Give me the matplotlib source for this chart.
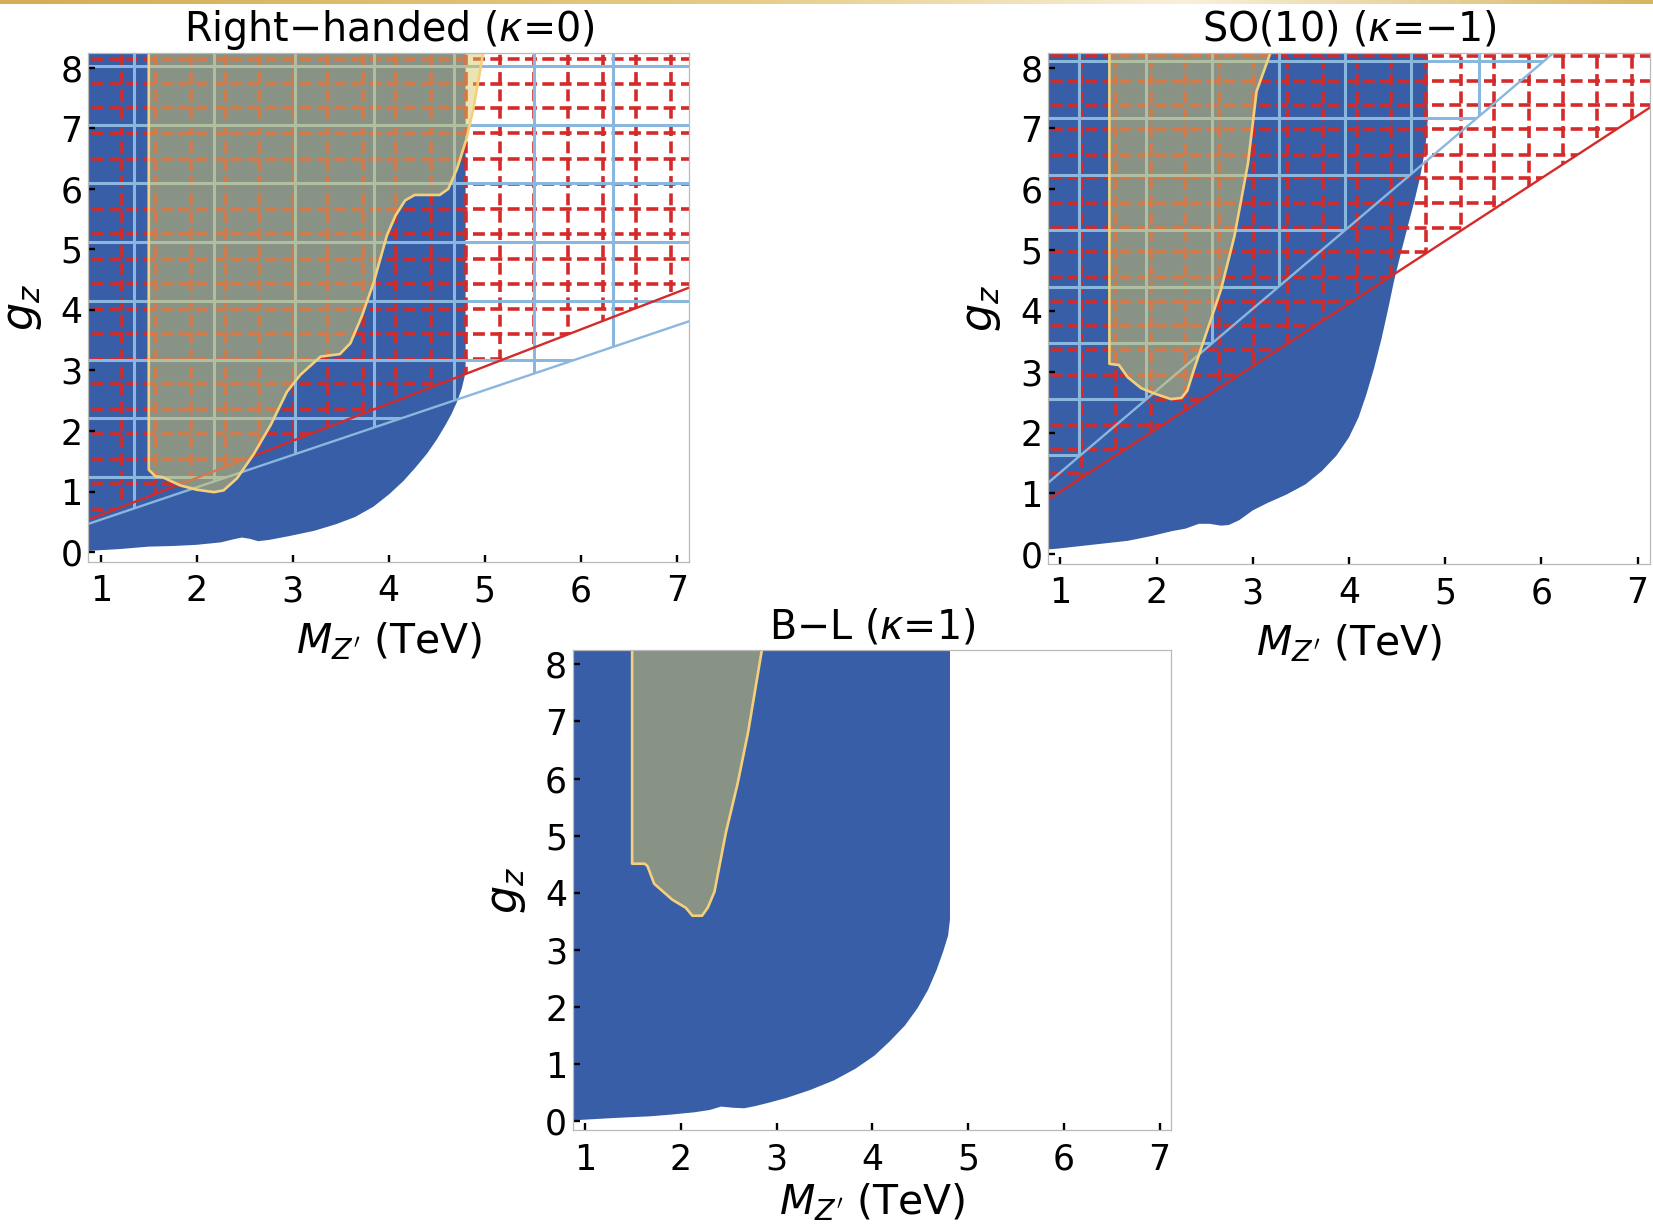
import numpy as np
import matplotlib
matplotlib.use("Agg")
import matplotlib.pyplot as plt
from matplotlib.patches import Polygon
from matplotlib.colors import LinearSegmentedColormap

# ---------------- data ----------------
titles = ["Right\u2212handed ($\\kappa$=0)", "SO(10) ($\\kappa$=\u22121)", "B\u2212L ($\\kappa$=1)"]
x_ticks = [1, 2, 3, 4, 5, 6, 7]
y_ticks = [0, 1, 2, 3, 4, 5, 6, 7, 8]

# blue (excluded) region boundary: right / lower edge, from top going down-left
rh_blue_x = [4.80, 4.80, 4.79, 4.76, 4.71, 4.65, 4.58, 4.50, 4.40, 4.28, 4.15, 4.00, 3.84, 3.65,
             3.45, 3.22, 2.95, 2.75, 2.64, 2.55, 2.47, 2.38, 2.25, 2.00, 1.75, 1.50, 1.20, 0.87]
rh_blue_y = [8.40, 3.10, 2.90, 2.70, 2.48, 2.27, 2.07, 1.86, 1.63, 1.40, 1.17, 0.95, 0.75, 0.58,
             0.46, 0.35, 0.26, 0.20, 0.18, 0.22, 0.24, 0.21, 0.16, 0.12, 0.10, 0.09, 0.05, 0.02]
so_blue_x = [4.82, 4.82, 4.81, 4.78, 4.74, 4.68, 4.61, 4.54, 4.47, 4.41, 4.34, 4.26, 4.18, 4.10,
             4.00, 3.87, 3.72, 3.55, 3.35, 3.15, 3.00, 2.86, 2.75, 2.67, 2.55, 2.44, 2.30, 2.16,
             1.95, 1.70, 1.30, 0.96, 0.87]
so_blue_y = [8.40, 7.20, 6.90, 6.55, 6.20, 5.80, 5.38, 4.95, 4.50, 4.05, 3.55, 3.05, 2.62, 2.25,
             1.92, 1.62, 1.37, 1.15, 0.98, 0.84, 0.72, 0.56, 0.48, 0.47, 0.50, 0.50, 0.42, 0.38,
             0.30, 0.22, 0.15, 0.09, 0.08]
bl_blue_x = [4.81, 4.81, 4.79, 4.74, 4.67, 4.58, 4.47, 4.34, 4.18, 4.02, 3.82, 3.60, 3.35, 3.10,
             2.90, 2.78, 2.66, 2.54, 2.42, 2.30, 2.14, 1.90, 1.68, 1.30, 0.88]
bl_blue_y = [8.40, 3.53, 3.25, 2.98, 2.65, 2.30, 1.98, 1.68, 1.40, 1.15, 0.92, 0.72, 0.55, 0.41,
             0.32, 0.27, 0.23, 0.24, 0.26, 0.20, 0.16, 0.12, 0.09, 0.06, 0.02]

# yellow (allowed / signal) region boundary
rh_yel_x = [1.50, 1.50, 1.57, 1.64, 1.83, 2.00, 2.18, 2.28, 2.42, 2.59, 2.77, 2.94, 3.08, 3.29,
            3.49, 3.60, 3.72, 3.84, 3.98, 4.07, 4.17, 4.27, 4.53, 4.62, 4.71, 4.81, 4.88, 4.93, 5.00]
rh_yel_y = [8.40, 1.36, 1.25, 1.24, 1.10, 1.03, 0.99, 1.02, 1.22, 1.61, 2.10, 2.65, 2.93, 3.23,
            3.27, 3.45, 3.90, 4.44, 5.23, 5.56, 5.81, 5.90, 5.90, 6.00, 6.33, 6.83, 7.32, 7.76, 8.40]
so_yel_x = [1.51, 1.51, 1.61, 1.70, 1.84, 1.98, 2.15, 2.26, 2.32, 2.39, 2.51, 2.67, 2.81, 2.95,
            3.04, 3.22]
so_yel_y = [8.40, 3.13, 3.11, 2.91, 2.73, 2.64, 2.55, 2.57, 2.69, 3.04, 3.60, 4.35, 5.23, 6.42,
            7.61, 8.40]
bl_yel_x = [1.49, 1.49, 1.62, 1.65, 1.72, 1.91, 2.05, 2.12, 2.22, 2.28, 2.35, 2.47, 2.59, 2.70, 2.86]
bl_yel_y = [8.40, 4.51, 4.51, 4.47, 4.16, 3.88, 3.74, 3.60, 3.60, 3.74, 4.02, 5.06, 5.90, 6.80, 8.40]

# slopes of the straight exclusion limits (g_z = slope * M_Z')
red_slope = [0.613, 1.03]
lb_slope = [0.535, 1.345]

# mesh lines of the hatched regions
red_mesh_x = [1.22, 1.58, 1.94, 2.30, 2.65, 3.01, 3.37, 3.73, 4.08, 4.44, 4.80, 5.16, 5.51,
              5.87, 6.23, 6.58, 6.94]
rh_red_mesh_y = [0.29, 0.70, 1.12, 1.53, 1.95, 2.36, 2.77, 3.19, 3.60, 4.01, 4.43, 4.84, 5.26,
                 5.67, 6.08, 6.50, 6.92, 7.33, 7.74, 8.15]
so_red_mesh_y = [0.52, 0.92, 1.33, 1.73, 2.13, 2.54, 2.94, 3.35, 3.75, 4.15, 4.56, 4.96, 5.37,
                 5.77, 6.18, 6.57, 6.99, 7.38, 7.78, 8.19]
rh_lb_mesh_x = [1.35, 2.18, 3.02, 3.85, 4.68, 5.51, 6.34]
rh_lb_mesh_y = [1.24, 2.21, 3.18, 4.15, 5.12, 6.09, 7.06, 8.03]
so_lb_mesh_x = [1.19, 1.89, 2.58, 3.27, 3.96, 4.65, 5.35]
so_lb_mesh_y = [1.63, 2.55, 3.48, 4.40, 5.33, 6.24, 7.17, 8.10]

# ---------------- style ----------------
BLUE = "#385ea7"
RED = "#d42a2a"
LBLUE = "#8ab7de"
YFILL = "#d8c866"
YEDGE = "#f5d07a"

plt.rcParams["font.family"] = ["DejaVu Sans"]
plt.rcParams["mathtext.fontset"] = "dejavusans"

fig = plt.figure(figsize=(16.53, 12.26), dpi=100)

# thin golden strip at the very top
bar = fig.add_axes([0, 1 - 4 / 1226, 1, 4 / 1226])
gold = LinearSegmentedColormap.from_list(
    "gold", [(0.0, "#d4ad55"), (0.45, "#e6cc86"), (0.72, "#f8f0da"), (1.0, "#d8b560")])
bar.imshow(np.linspace(0, 1, 256)[None, :], aspect="auto", cmap=gold, extent=(0, 1, 0, 1))
bar.axis("off")

axes_rects = [
    [0.0534, 0.5418, 0.3636, 0.4147],
    [0.6339, 0.5400, 0.3643, 0.4168],
    [0.3465, 0.0783, 0.3620, 0.3915],
]
ylims = [(-0.16, 8.24), (-0.16, 8.24), (-0.15, 8.25)]
xlims = [(0.87, 7.13), (0.87, 7.13), (0.87, 7.12)]
xlabel_y = [-0.116, -0.116, -0.108]

blue_bounds = [(rh_blue_x, rh_blue_y), (so_blue_x, so_blue_y), (bl_blue_x, bl_blue_y)]
yel_bounds = [(rh_yel_x, rh_yel_y), (so_yel_x, so_yel_y), (bl_yel_x, bl_yel_y)]
red_mesh_y = [rh_red_mesh_y, so_red_mesh_y]
lb_mesh = [(rh_lb_mesh_x, rh_lb_mesh_y), (so_lb_mesh_x, so_lb_mesh_y)]
title_pads = [9, 9, 8]

for i in range(3):
    ax = fig.add_axes(axes_rects[i])
    x0, x1 = xlims[i]
    y0, y1 = ylims[i]
    ax.set_xlim(x0, x1)
    ax.set_ylim(y0, y1)

    # blue excluded region
    bx, by = blue_bounds[i]
    verts = list(zip(bx, by)) + [(0.3, by[-1]), (0.3, by[0])]
    ax.add_patch(Polygon(verts, closed=True, facecolor=BLUE, edgecolor="none", zorder=1))

    if i < 2:
        xe = np.array([0.0, 9.0])
        # red dashed mesh, clipped above the red line
        rs = red_slope[i]
        red_clip = Polygon([(0.0, 0.0), (9.0, rs * 9.0), (9.0, 12.0), (0.0, 12.0)],
                           closed=True, transform=ax.transData, facecolor="none", edgecolor="none")
        hl = ax.hlines(red_mesh_y[i], 0.0, 9.0, colors=RED, linewidth=2.6,
                       linestyles=(0, (3.3, 1.5)), zorder=2)
        vl = ax.vlines(red_mesh_x, 0.0, 12.0, colors=RED, linewidth=2.6,
                       linestyles=(0, (3.3, 1.5)), zorder=2)
        hl.set_clip_path(red_clip)
        vl.set_clip_path(red_clip)

        # light-blue solid mesh, clipped above the light-blue line
        ls_ = lb_slope[i]
        lb_clip = Polygon([(0.0, 0.0), (9.0, ls_ * 9.0), (9.0, 12.0), (0.0, 12.0)],
                          closed=True, transform=ax.transData, facecolor="none", edgecolor="none")
        mx, my = lb_mesh[i]
        hl2 = ax.hlines(my, 0.0, 9.0, colors=LBLUE, linewidth=2.2, zorder=3)
        vl2 = ax.vlines(mx, 0.0, 12.0, colors=LBLUE, linewidth=2.2, zorder=3)
        hl2.set_clip_path(lb_clip)
        vl2.set_clip_path(lb_clip)

        # boundary lines
        ax.plot(xe, rs * xe, color=RED, linewidth=1.7, zorder=3.5)
        ax.plot(xe, ls_ * xe, color=LBLUE, linewidth=1.7, zorder=3.4)

    # yellow region (semi-transparent) with outline
    yx, yy = yel_bounds[i]
    ax.add_patch(Polygon(list(zip(yx, yy)), closed=True, facecolor=YFILL, alpha=0.5,
                         edgecolor="none", zorder=4))
    ax.plot(yx, yy, color=YEDGE, linewidth=1.9, zorder=5, solid_joinstyle="round")

    # axes cosmetics
    ax.set_xticks(x_ticks)
    ax.set_yticks(y_ticks)
    ax.tick_params(direction="in", length=5, width=1.7, colors="black", labelsize=25,
                   top=False, right=False)
    ax.tick_params(axis="x", pad=9)
    ax.tick_params(axis="y", pad=4)
    ax.xaxis.set_zorder(20)
    ax.yaxis.set_zorder(20)
    for s in ax.spines.values():
        s.set_color("#b9b9b9")
        s.set_linewidth(0.9)
        s.set_zorder(21)

    ax.set_title(titles[i], fontsize=28.5, pad=title_pads[i])
    ax.set_xlabel("$M_{Z'}$ (TeV)", fontsize=29.5)
    ax.set_ylabel("$g_z$", fontsize=32)
    ax.xaxis.set_label_coords(0.5, xlabel_y[i])
    ax.yaxis.set_label_coords(-0.074, 0.5)

fig.savefig("out.png", dpi=100)
